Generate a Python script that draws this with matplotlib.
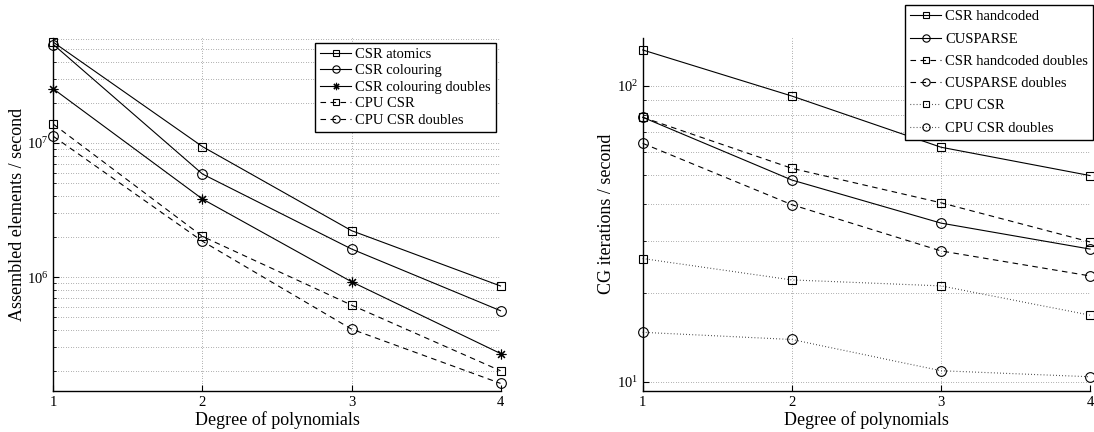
import matplotlib
matplotlib.use("Agg")
from matplotlib import pyplot as plt
from matplotlib.ticker import LogLocator, NullFormatter, FixedLocator

plt.rcParams["font.family"] = ["Liberation Serif", "DejaVu Serif"]
plt.rcParams["mathtext.fontset"] = "stix"

degree = [1, 2, 3, 4]

# assembly throughput (elements / second)
csr_atomics = [5.64e7, 9.4e6, 2.22e6, 8.58e5]
csr_colouring = [5.42e7, 5.87e6, 1.62e6, 5.61e5]
csr_colouring_doubles = [2.53e7, 3.82e6, 9.23e5, 2.69e5]
cpu_csr_assembly = [1.38e7, 2.01e6, 6.18e5, 2.0e5]
cpu_csr_doubles_assembly = [1.12e7, 1.85e6, 4.09e5, 1.61e5]

# CG solve throughput (iterations / second)
csr_handcoded = [132.4, 92.5, 62.1, 49.8]
cusparse = [78.4, 48.1, 34.4, 28.1]
csr_handcoded_doubles = [78.4, 52.7, 40.3, 29.7]
cusparse_doubles = [64.0, 39.7, 27.7, 22.8]
cpu_csr_cg = [26.1, 22.1, 21.1, 16.8]
cpu_csr_doubles_cg = [14.7, 13.9, 10.9, 10.4]

LW = 0.8
sq = dict(marker="s", markersize=6, markerfacecolor="none", markeredgewidth=0.8, clip_on=False)
ci = dict(marker="o", markersize=7, markerfacecolor="none", markeredgewidth=0.8, clip_on=False)
st = dict(marker=(8, 2, 0), markersize=7, markeredgewidth=0.8, clip_on=False)
dashed = dict(dashes=(5, 4))
dotted = dict(dashes=(0.6, 2.2))


def _style(ax, ylim):
    ax.set_yscale("log")
    ax.set_xlim(1, 4)
    ax.set_ylim(*ylim)
    ax.xaxis.set_major_locator(FixedLocator(degree))
    ax.yaxis.set_major_locator(LogLocator(base=10))
    ax.yaxis.set_minor_locator(LogLocator(base=10, subs=range(2, 10)))
    ax.yaxis.set_minor_formatter(NullFormatter())
    for side in ("top", "right"):
        ax.spines[side].set_visible(False)
    for side in ("left", "bottom"):
        ax.spines[side].set_linewidth(1.0)
    ax.tick_params(which="both", direction="in", labelsize=10.5)
    ax.tick_params(which="major", length=4)
    ax.tick_params(which="minor", length=2)
    ax.grid(True, which="major", color="0.4", lw=0.6, dashes=(0.7, 2.3))
    ax.grid(True, which="minor", axis="y", color="0.4", lw=0.6, dashes=(0.7, 2.3))
    ax.set_axisbelow(True)
    ax.set_xlabel("Degree of polynomials", fontsize=13, labelpad=2)


def _legend(ax, anchor, spacing):
    leg = ax.legend(loc="upper right", bbox_to_anchor=anchor, bbox_transform=fig.transFigure,
                    fontsize=10.5, frameon=True, fancybox=False, edgecolor="k", framealpha=1,
                    handlelength=2.1, handletextpad=0.3, labelspacing=spacing, borderpad=0.35,
                    borderaxespad=0, markerscale=0.75)
    leg.get_frame().set_linewidth(1.0)
    return leg


fig = plt.figure(figsize=(10.94, 4.32), dpi=100)
ax1 = fig.add_axes([0.0489, 0.0956, 0.4086, 0.817])
ax2 = fig.add_axes([0.5875, 0.0956, 0.4089, 0.817])

# left: assembly
ax1.plot(degree, csr_atomics, "k-", lw=LW, label="CSR atomics", **sq)
ax1.plot(degree, csr_colouring, "k-", lw=LW, label="CSR colouring", **ci)
ax1.plot(degree, csr_colouring_doubles, "k-", lw=LW, label="CSR colouring doubles", **st)
ax1.plot(degree, cpu_csr_assembly, "k-", lw=LW, label="CPU CSR", **sq, **dashed)
ax1.plot(degree, cpu_csr_doubles_assembly, "k-", lw=LW, label="CPU CSR doubles", **ci, **dashed)
_style(ax1, (1.42e5, 6.1e7))
ax1.set_ylabel("Assembled elements / second", fontsize=13, labelpad=1)
_legend(ax1, (0.4535, 0.901), 0.22)

# right: CG iterations
ax2.plot(degree, csr_handcoded, "k-", lw=LW, label="CSR handcoded", **sq)
ax2.plot(degree, cusparse, "k-", lw=LW, label="CUSPARSE", **ci)
ax2.plot(degree, csr_handcoded_doubles, "k-", lw=LW, label="CSR handcoded doubles", **sq, **dashed)
ax2.plot(degree, cusparse_doubles, "k-", lw=LW, label="CUSPARSE doubles", **ci, **dashed)
ax2.plot(degree, cpu_csr_cg, "k-", lw=LW, label="CPU CSR", **sq, **dotted)
ax2.plot(degree, cpu_csr_doubles_cg, "k-", lw=LW, label="CPU CSR doubles", **ci, **dotted)
_style(ax2, (9.33, 145.6))
ax2.set_ylabel("CG iterations / second", fontsize=13, labelpad=1)
_legend(ax2, (0.9995, 0.988), 0.62)

fig.savefig("out.png", dpi=100)
